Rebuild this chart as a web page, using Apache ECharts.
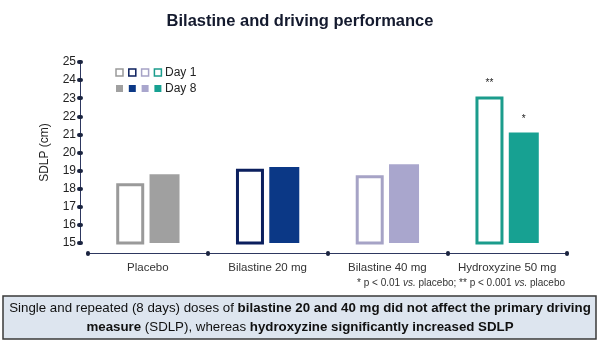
<!DOCTYPE html>
<html><head><meta charset="utf-8">
<script src="https://cdn.jsdelivr.net/npm/echarts@6/dist/echarts.min.js"></script>
<style>html,body{margin:0;padding:0;background:#fff}#c{width:600px;height:343px}</style>
</head><body><div id="c"></div>
<script>
var categories = ['Placebo', 'Bilastine 20 mg', 'Bilastine 40 mg', 'Hydroxyzine 50 mg'];
var day1 = [18.3, 19.1, 18.75, 23.1];
var day8 = [18.8, 19.2, 19.35, 21.1];
var sigDay1 = ['', '', '', '**'];
var sigDay8 = ['', '', '', '*'];
var yTicks = [15, 25, 1];
var colors1 = ['#9a9a9a', '#0b1f5e', '#a6a3c6', '#1b9c8c'];
var colors8 = ['#a0a0a0', '#0b3886', '#a9a6cd', '#17a192'];

var SANS = "'Liberation Sans', Arial, sans-serif";
var chart = echarts.init(document.getElementById('c'), null, {renderer: 'canvas'});

function legendRow(y, filled, label) {
  var kids = [];
  for (var i = 0; i < 4; i++) {
    kids.push({type: 'rect', shape: {x: 116 + i * 12.8, y: y - 4, width: 7, height: 7},
      style: filled ? {fill: colors8[i], stroke: null} : {fill: '#fff', stroke: colors1[i], lineWidth: 1.5}});
  }
  kids.push({type: 'text', style: {x: 165, y: y, text: label, font: '12px ' + SANS, fill: '#222', textVerticalAlign: 'middle'}});
  return kids;
}

var tickStyle = {color: '#1b2440', width: 4, cap: 'round'};

var option = {
  animation: false,
  title: {
    text: 'Bilastine and driving performance', left: 'center', top: 8,
    textStyle: {fontSize: 16.5, fontWeight: 'bold', color: '#141a2e', fontFamily: SANS}
  },
  grid: {left: 88, right: 33, top: 62, bottom: 100, containLabel: false},
  xAxis: {
    type: 'category', data: categories, offset: 10,
    axisLine: {lineStyle: {color: '#2e3860', width: 1}},
    axisTick: {show: true, length: 1, lineStyle: tickStyle},
    axisLabel: {color: '#333', fontSize: 11.5, fontFamily: SANS, margin: 9, interval: 0}
  },
  yAxis: [{
    type: 'value', min: yTicks[0], max: yTicks[1], interval: yTicks[2], offset: 8,
    name: 'SDLP (cm)', nameLocation: 'middle', nameGap: 29,
    nameTextStyle: {fontSize: 12, color: '#222', fontFamily: SANS},
    axisLine: {show: true, lineStyle: {color: '#2e3860', width: 1}},
    axisTick: {show: true, length: 1, lineStyle: tickStyle},
    axisLabel: {color: '#222', fontSize: 12, fontFamily: SANS, margin: 4},
    splitLine: {show: false}
  }, {
    type: 'value', position: 'left', min: yTicks[0], max: yTicks[1], interval: yTicks[2], offset: 8,
    axisLine: {show: false},
    axisTick: {show: true, inside: true, length: 1, lineStyle: tickStyle},
    axisLabel: {show: false}, splitLine: {show: false}
  }],
  series: [{
    name: 'Day 1', type: 'bar', barWidth: 28, barGap: '19%', barCategoryGap: '45%',
    data: day1.map(function (v, i) {
      return {value: v, itemStyle: {color: '#fff', borderColor: colors1[i], borderWidth: 3},
        label: {show: !!sigDay1[i], formatter: sigDay1[i], position: 'top', distance: 8, color: '#222', fontSize: 10}};
    })
  }, {
    name: 'Day 8', type: 'bar', barWidth: 30, barGap: '19%',
    data: day8.map(function (v, i) {
      return {value: v, itemStyle: {color: colors8[i]},
        label: {show: !!sigDay8[i], formatter: sigDay8[i], position: 'top', distance: 8, color: '#222', fontSize: 10}};
    })
  }],
  graphic: [
    {type: 'group', children: legendRow(73, false, 'Day 1').concat(legendRow(89, true, 'Day 8'))},
    {type: 'text', right: 35, top: 278, style: {
      text: '* p < 0.01 {i|vs.} placebo; ** p < 0.001 {i|vs.} placebo',
      font: '10px ' + SANS, fill: '#333',
      rich: {i: {fontStyle: 'italic', fontSize: 10, fontFamily: SANS, fill: '#333'}}
    }},
    {type: 'rect', shape: {x: 3, y: 296, width: 593, height: 43},
      style: {fill: '#dde5ef', stroke: '#3a3a3a', lineWidth: 1.5}},
    {type: 'text', left: 'center', top: 299, style: {
      text: 'Single and repeated (8 days) doses of {b|bilastine 20 and 40 mg did not affect the primary driving}\n{b|measure} (SDLP), whereas {b|hydroxyzine significantly increased SDLP}',
      font: '13.3px ' + SANS, fill: '#111', textAlign: 'center', lineHeight: 19,
      rich: {b: {fontWeight: 'bold', fontSize: 13.3, fontFamily: SANS, fill: '#111', lineHeight: 19}}
    }}
  ]
};
chart.setOption(option);
</script></body></html>
